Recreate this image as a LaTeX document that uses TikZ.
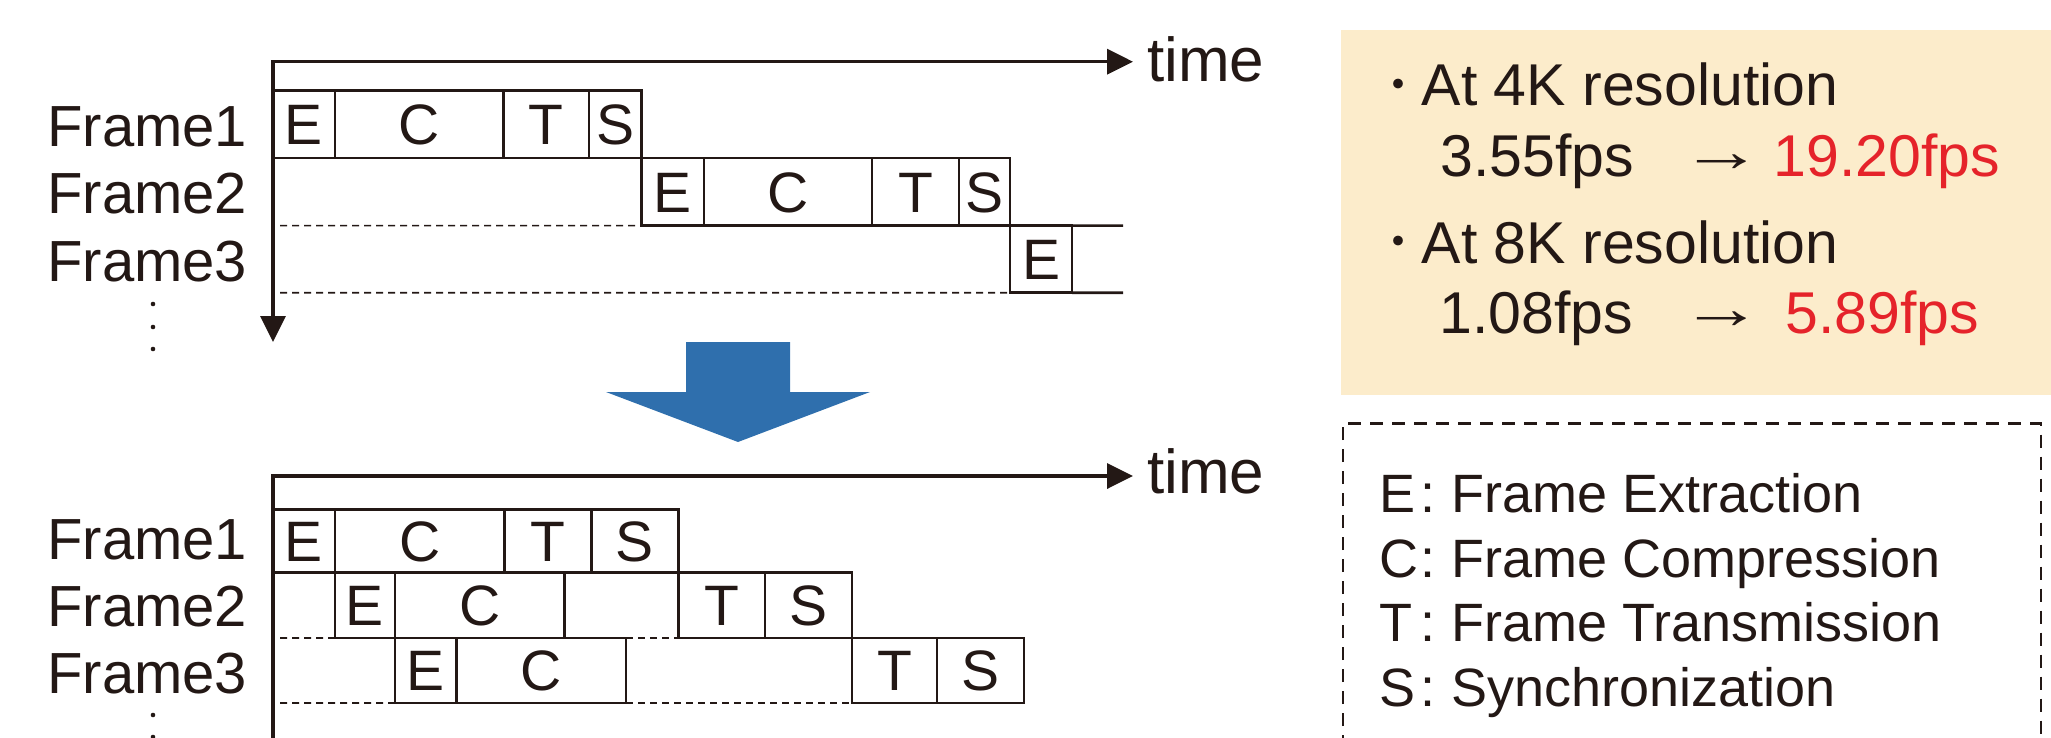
\documentclass[tikz,border=0pt]{standalone}
\usepackage{fontspec}
\setmainfont{Liberation Sans}
\newfontfamily\cjk{Noto Sans CJK JP}
\usetikzlibrary{arrows.meta}
\definecolor{ink}{HTML}{231815}
\definecolor{panel}{HTML}{FCECCB}
\definecolor{flow}{HTML}{2F6FAD}
\definecolor{fast}{HTML}{E5232A}
\newcommand{\ratebullet}{\raisebox{4.5pt}{\cjk\fontsize{46}{50}\selectfont ・}}
\newcommand{\rategoes}{\raisebox{5pt}{\scalebox{1.4}[1]{→}}}

\begin{document}
\begin{tikzpicture}[x=1pt, y=-1pt,
  every node/.style={inner sep=0pt, outer sep=0pt, text=ink,
    font=\fontsize{57}{60}\selectfont},
  seg/.style={draw=ink, line width=2.6pt, rectangle, anchor=north west,
    text height=40.5pt, text depth=0pt},
  rowname/.style={anchor=base west, font=\fontsize{58}{60}\selectfont},
  timelbl/.style={anchor=base west, font=\fontsize{62}{64}\selectfont},
  rate/.style={anchor=base west, font=\fontsize{59}{62}\selectfont},
  key/.style={anchor=base west, font=\fontsize{54}{58}\selectfont},
  axisline/.style={draw=ink, line width=3.6pt, line join=miter},
  tip/.style={-{Triangle[length=26pt, width=25pt]}},
  rowdash/.style={draw=ink, line width=1.6pt, dash pattern=on 7pt off 5pt},
  openedge/.style={draw=ink, line width=2.6pt},
  legendbox/.style={draw=ink, line width=2.8pt, dash pattern=on 13pt off 9pt},
  dotmark/.style={fill=ink}]

\useasboundingbox (0,0) rectangle (2051,738);

% ---------- sequential pipeline (top) ----------
\coordinate (tO) at (273,61.7);
\coordinate (tX) at (1133,61.7);
\coordinate (tY) at (273,342);
\draw[axisline, {Triangle[length=26pt, width=25pt]}-{Triangle[length=26pt, width=25pt]}]
  (tY) -- (tO) -- (tX);
\node[timelbl] (ttime) at (1147,81.7) {time};

\node[rowname] (tf1) at (47.3,146.7) {Frame1};
\node[rowname] (tf2) at (47.3,214) {Frame2};
\node[rowname] (tf3) at (47.3,281.7) {Frame3};

% frame 1
\node[seg, minimum width=62pt, minimum height=67.3pt] (t1E) at (273,90.7) {E};
\node[seg, minimum width=168.6pt, minimum height=67.3pt] (t1C) at (t1E.north east) {C};
\node[seg, minimum width=85.4pt, minimum height=67.3pt] (t1T) at (t1C.north east) {T};
\node[seg, minimum width=52.5pt, minimum height=67.3pt] (t1S) at (t1T.north east) {S};
% frame 2
\node[seg, minimum width=62.5pt, minimum height=67.7pt] (t2E) at (t1S.south east) {E};
\node[seg, minimum width=168pt, minimum height=67.7pt] (t2C) at (t2E.north east) {C};
\node[seg, minimum width=87pt, minimum height=67.7pt] (t2T) at (t2C.north east) {T};
\node[seg, minimum width=51pt, minimum height=67.7pt] (t2S) at (t2T.north east) {S};
% frame 3
\node[seg, minimum width=62pt, minimum height=67pt] (t3E) at (t2S.south east) {E};
\coordinate (t3top) at (1123,225.7);
\coordinate (t3bot) at (1123,292.7);
\draw[openedge] (t3E.north east) -- (t3top);
\draw[openedge] (t3E.south east) -- (t3bot);

\coordinate (td2) at (280,225.7);
\coordinate (td3) at (280,292.7);
\draw[rowdash] (td2) -- (t2E.south west);
\draw[rowdash] (td3) -- (t3E.south west);

\fill[dotmark] (153,304) circle (2.3pt) (153,327) circle (2.3pt) (153,349) circle (2.3pt);

% ---------- transition arrow ----------
\fill[flow] (686,342) -- (790,342) -- (790,392) -- (870,392) -- (738,442)
  -- (606,392) -- (686,392) -- cycle;

% ---------- overlapped pipeline (bottom) ----------
\coordinate (bO) at (273,476);
\coordinate (bX) at (1133,476);
\coordinate (bY) at (273,770);
\draw[axisline, tip] (bY) -- (bO) -- (bX);
\node[timelbl] (btime) at (1147,493.3) {time};

\node[rowname] (bf1) at (47.3,559.3) {Frame1};
\node[rowname] (bf2) at (47.3,626.7) {Frame2};
\node[rowname] (bf3) at (47.3,693.3) {Frame3};

% frame 1
\node[seg, minimum width=62pt, minimum height=63.4pt] (b1E) at (273,509.3) {E};
\node[seg, minimum width=169.5pt, minimum height=63.4pt] (b1C) at (b1E.north east) {C};
\node[seg, minimum width=87pt, minimum height=63.4pt] (b1T) at (b1C.north east) {T};
\node[seg, minimum width=87pt, minimum height=63.4pt] (b1S) at (b1T.north east) {S};
% frame 2
\node[seg, minimum width=60pt, minimum height=65.3pt] (b2E) at (b1E.south east) {E};
\node[seg, minimum width=169.5pt, minimum height=65.3pt] (b2C) at (b2E.north east) {C};
\node[seg, minimum width=86.4pt, minimum height=65.3pt] (b2T) at (b1S.south east) {T};
\node[seg, minimum width=87pt, minimum height=65.3pt] (b2S) at (b2T.north east) {S};
% frame 3
\node[seg, minimum width=61.6pt, minimum height=65pt] (b3E) at (b2E.south east) {E};
\node[seg, minimum width=169.4pt, minimum height=65pt] (b3C) at (b3E.north east) {C};
\node[seg, minimum width=85pt, minimum height=65pt] (b3T) at (b2S.south east) {T};
\node[seg, minimum width=87pt, minimum height=65pt] (b3S) at (b3T.north east) {S};

\coordinate (bd2) at (280,638);
\coordinate (bd3) at (280,703);
\draw[rowdash] (bd2) -- (b2E.south west);
\draw[rowdash] (b3C.north east) -- (b2T.south west);
\draw[rowdash] (bd3) -- (b3E.south west);
\draw[rowdash] (b3C.south east) -- (b3T.south west);

\fill[dotmark] (153,715) circle (2.3pt) (153,737) circle (2.3pt);

% ---------- frame-rate panel ----------
\fill[panel] (1341,30) rectangle (2051,395);
\node[rate] (r4) at (1375.7,105.7) {\ratebullet At 4K resolution};
\node[rate] (r4a) at (1440.5,176.7) {3.55fps};
\node[rate] (r4r) at (1680,176.7) {\rategoes};
\node[rate, text=fast] (r4b) at (1773.6,176.7) {19.20fps};
\node[rate] (r8) at (1375.7,263.3) {\ratebullet At 8K resolution};
\node[rate] (r8a) at (1439.6,333.3) {1.08fps};
\node[rate] (r8r) at (1680,333.3) {\rategoes};
\node[rate, text=fast] (r8b) at (1785.6,333.3) {5.89fps};

% ---------- legend ----------
\draw[legendbox] (1343,770) -- (1343,423.3) -- (2041,423.3) -- (2041,770);
\node[key] (lgE) at (1379,512.7) {\makebox[42pt][l]{E}:\hspace{15.5pt}Frame Extraction};
\node[key] (lgC) at (1379,577) {\makebox[42pt][l]{C}:\hspace{15.5pt}Frame Compression};
\node[key] (lgT) at (1379,641.5) {\makebox[42pt][l]{T}:\hspace{15.5pt}Frame Transmission};
\node[key] (lgS) at (1379,706) {\makebox[42pt][l]{S}:\hspace{15.5pt}Synchronization};
\end{tikzpicture}
\end{document}
